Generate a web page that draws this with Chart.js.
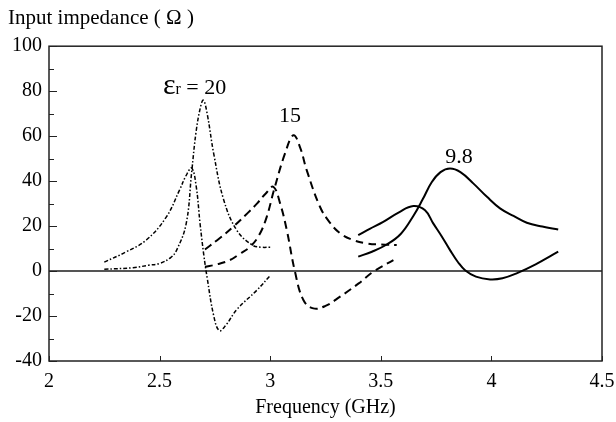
<!DOCTYPE html>
<html><head><meta charset="utf-8">
<script src="https://cdn.jsdelivr.net/npm/chart.js@4/dist/chart.umd.min.js"></script>
<style>html,body{margin:0;padding:0;background:#fff}canvas{display:block}</style>
</head><body>
<canvas id="c" width="616" height="422"></canvas>
<script>
// ---- data (frequency in GHz, impedance in ohms) ----
const xTicks = [2, 2.5, 3, 3.5, 4, 4.5];
const yTicks = [-40, -20, 0, 20, 40, 60, 80, 100];

// εr = 20 (dash-dot)
const er20ReactF = [2.25, 2.35, 2.44, 2.53, 2.59, 2.62, 2.645, 2.665, 2.683, 2.70, 2.715, 2.745, 2.77, 2.80, 2.85, 2.94, 3.0];
const er20ReactZ = [4, 8.6, 13.8, 24, 36, 42.5, 45.8, 38, 21, 7, -3, -20, -26.5, -24, -17, -8.5, -2];
const er20ResF = [2.25, 2.38, 2.45, 2.50, 2.55, 2.577, 2.62, 2.645, 2.665, 2.685, 2.698, 2.715, 2.745, 2.79, 2.85, 2.92, 2.96, 3.0];
const er20ResZ = [0.8, 1.5, 2.6, 3.4, 6, 9.3, 21, 44, 62, 73, 76, 70, 52, 31.6, 18, 11.5, 10.6, 10.6];

// εr = 15 (dashed)
const er15ReactF = [2.705, 2.77, 2.833, 2.90, 2.94, 2.98, 3.014, 3.045, 3.075, 3.112, 3.15, 3.195, 3.25, 3.316, 3.40, 3.466, 3.557];
const er15ReactZ = [9.6, 14.5, 19.7, 26, 30, 34.5, 37.5, 30, 18.2, -0.3, -12.9, -16.6, -15.5, -11.4, -5.5, -0.3, 4.9];
const er15ResF = [2.705, 2.76, 2.818, 2.86, 2.909, 2.95, 2.984, 3.017, 3.067, 3.105, 3.135, 3.165, 3.225, 3.27, 3.316, 3.37, 3.436, 3.50, 3.572];
const er15ResZ = [1.9, 3, 4.9, 7.5, 10.8, 16, 24, 36, 52.3, 60.4, 55, 44.9, 28.6, 21.5, 16.8, 14, 12.3, 11.8, 11.6];

// εr = 9.8 (solid)
const er98ReactF = [3.398, 3.45, 3.511, 3.58, 3.647, 3.70, 3.737, 3.775, 3.813, 3.85, 3.881, 3.93, 3.994, 4.05, 4.114, 4.20, 4.302];
const er98ReactZ = [16, 18.8, 21.9, 26, 28.9, 27, 21.2, 15.5, 9.3, 3.8, 0.4, -2.5, -3.7, -3.2, -1, 3, 8.6];
const er98ResF = [3.398, 3.46, 3.527, 3.59, 3.647, 3.69, 3.73, 3.77, 3.813, 3.86, 3.918, 3.98, 4.039, 4.10, 4.16, 4.23, 4.302];
const er98ResZ = [6.4, 8.6, 11.8, 16.5, 24.5, 32, 39.5, 44, 45.6, 44, 39, 33, 27.9, 24.5, 21.5, 19.8, 18.5];

// curve labels: [text, frequency, impedance, with epsilon prefix]
const curveLabels = [['20', 2.515, 82.2, true], ['15', 3.09, 70], ['9.8', 3.854, 51.8]];

const FONT = '"Liberation Serif", "Times New Roman", serif';
const pts = (f, z) => f.map((x, i) => ({x, y: z[i]}));

const DASHDOT = [4, 2, 1.5, 2];
const DASHED = [8, 5];
const mk = (f, z, dash, w) => ({data: pts(f, z), borderColor: '#000', borderWidth: w, borderDash: dash, fill: false, pointRadius: 0, tension: 0.4});

const decor = {
  id: 'decor',
  beforeDatasetsDraw(chart) {
    const {ctx, chartArea: a, scales: {y}} = chart;
    const y0 = y.getPixelForValue(0);
    ctx.save();
    ctx.strokeStyle = '#555';
    ctx.lineWidth = 2;
    ctx.beginPath(); ctx.moveTo(a.left, y0); ctx.lineTo(a.right, y0); ctx.stroke();
    ctx.restore();
  },
  afterDatasetsDraw(chart) {
    const {ctx, chartArea: a, scales: {x, y}} = chart;
    ctx.save();
    ctx.strokeStyle = '#222';
    ctx.lineWidth = 1.5;
    ctx.strokeRect(a.left, a.top, a.right - a.left, a.bottom - a.top);
    ctx.lineWidth = 1;
    ctx.beginPath();
    for (let v = -40; v <= 100; v += 10) {
      const py = Math.round(y.getPixelForValue(v)) + 0.5;
      const len = (v % 20 === 0) ? 8 : 5;
      ctx.moveTo(a.left, py); ctx.lineTo(a.left + len, py);
    }
    for (const v of xTicks) {
      const px = Math.round(x.getPixelForValue(v)) + 0.5;
      ctx.moveTo(px, a.bottom); ctx.lineTo(px, a.bottom - 5);
    }
    ctx.stroke();
    // curve labels
    ctx.fillStyle = '#000';
    ctx.textBaseline = 'alphabetic';
    for (const [txt, f, z, eps] of curveLabels) {
      const px = x.getPixelForValue(f), py = y.getPixelForValue(z) + 8;
      if (eps) {
        let cx = px;
        ctx.textAlign = 'left';
        ctx.font = '30px ' + FONT;
        ctx.fillText('ε', cx, py); cx += ctx.measureText('ε').width;
        ctx.font = '16px ' + FONT;
        ctx.fillText('r', cx, py); cx += ctx.measureText('r').width;
        ctx.font = '22px ' + FONT;
        ctx.fillText(' = ' + txt, cx, py);
      } else {
        ctx.textAlign = 'center';
        ctx.font = '22px ' + FONT;
        ctx.fillText(txt, px, py);
      }
    }
    ctx.restore();
  }
};

new Chart(document.getElementById('c'), {
  type: 'line',
  data: {datasets: [
    mk(er20ReactF, er20ReactZ, DASHDOT, 1.5),
    mk(er20ResF, er20ResZ, DASHDOT, 1.5),
    mk(er15ReactF, er15ReactZ, DASHED, 2),
    mk(er15ResF, er15ResZ, DASHED, 2),
    mk(er98ReactF, er98ReactZ, [], 2),
    mk(er98ResF, er98ResZ, [], 2)
  ]},
  options: {
    responsive: false, animation: false, devicePixelRatio: 1,
    layout: {padding: {left: 8, right: 14, top: 0, bottom: 2}},
    plugins: {
      legend: {display: false}, tooltip: {enabled: false},
      title: {display: true, text: 'Input impedance ( Ω )', align: 'start', color: '#000',
        font: {family: FONT, size: 21, weight: 'normal'}, padding: {top: 6, bottom: 15}}
    },
    scales: {
      x: {type: 'linear', min: 2, max: 4.5,
        afterBuildTicks: s => { s.ticks = xTicks.map(v => ({value: v})); },
        ticks: {color: '#000', font: {family: FONT, size: 20}, padding: 9, maxRotation: 0, callback: v => String(v)},
        grid: {display: false, drawTicks: false}, border: {display: false},
        title: {display: true, text: 'Frequency (GHz)', color: '#000', font: {family: FONT, size: 20}, padding: {top: 4, bottom: 0}},
        afterFit: s => { s.height = 59; s.paddingLeft = 0; s.paddingRight = 0; }
      },
      y: {min: -40, max: 100,
        afterBuildTicks: s => { s.ticks = yTicks.map(v => ({value: v})); },
        ticks: {color: '#000', font: {family: FONT, size: 20}, padding: 7, callback: v => String(v)},
        grid: {display: false, drawTicks: false}, border: {display: false},
        afterFit: s => { s.width = 41; s.paddingTop = 0; s.paddingBottom = 0; }
      }
    }
  },
  plugins: [decor]
});
</script>
</body></html>
